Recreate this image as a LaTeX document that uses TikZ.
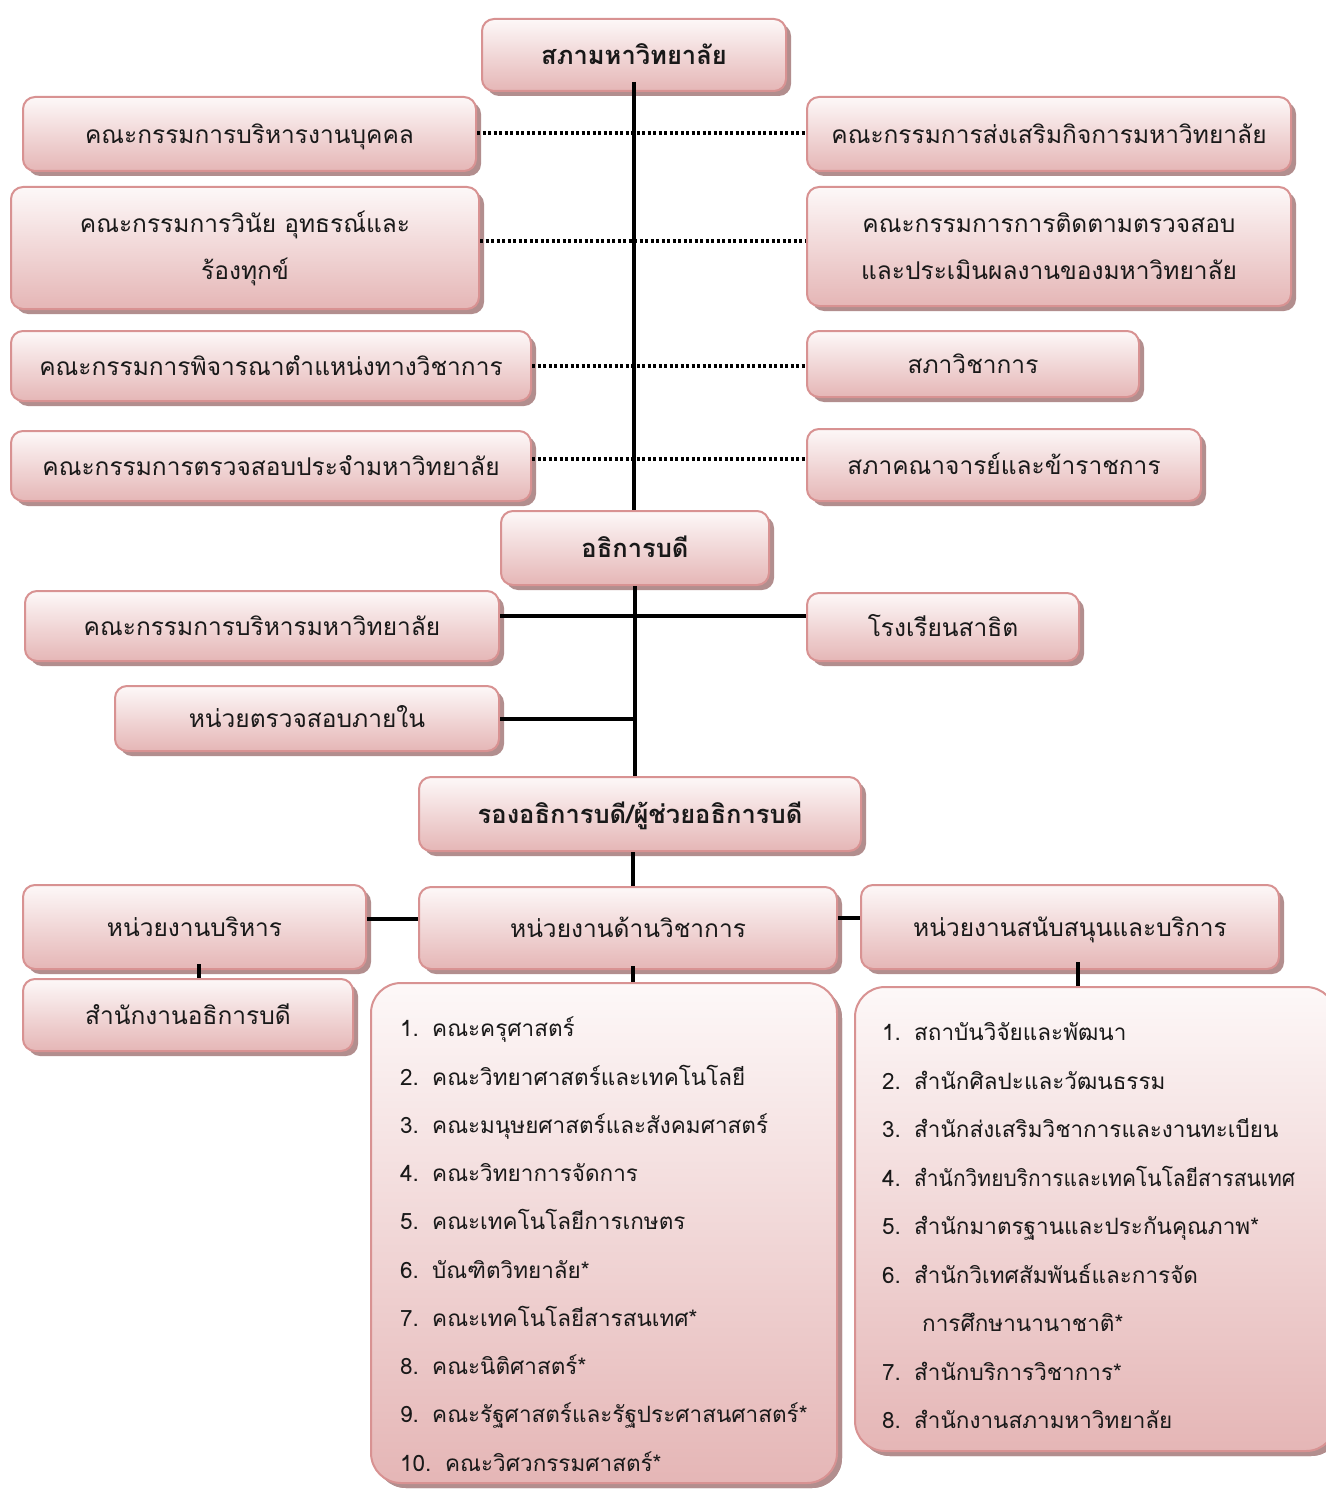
\documentclass[tikz,border=0pt]{standalone}
\usepackage{fontspec}
\setmainfont[Script=Thai]{Loma}
\usetikzlibrary{shadows}
\definecolor{bord}{RGB}{216,146,146}
\definecolor{topc}{RGB}{253,248,248}
\definecolor{botc}{RGB}{229,182,182}
\definecolor{shad}{RGB}{178,142,142}
\definecolor{txt}{RGB}{25,25,25}
\tikzset{
  box/.style={draw=bord, line width=2pt, rounded corners=12pt, top color=topc, bottom color=botc,
    drop shadow={shadow xshift=5pt, shadow yshift=-5pt, fill=shad, opacity=1},
    anchor=north west, inner sep=0pt, align=center, text=txt,
    font=\fontsize{24.5}{47}\selectfont},
  bigbox/.style={box, rounded corners=30pt},
  conn/.style={line width=4pt, black},
  dotconn/.style={line width=3.5pt, black, dash pattern=on 3pt off 2.5pt},
  item/.style={anchor=base west, inner sep=0pt, text=txt, font=\fontsize{22.5}{26}\selectfont},
}
\newcommand\bx[7][]{\node[box,#1, minimum width={#5-#3}, minimum height={#6-#4}] (#2) at (#3,#4) {\strut #7};}
\newcommand\bxx[7][]{\node[box,#1, minimum width={#5-#3}, minimum height={#6-#4}] (#2) at (#3,#4) {#7};}
\newcommand\nm[1]{\makebox[32pt][l]{#1}}
\begin{document}
\begin{tikzpicture}[x=1pt,y=-1pt]
\useasboundingbox[fill=white] (0,0) rectangle (1325,1490);
% boxes
\bx[font=\fontsize{25.5}{47}\selectfont\bfseries]{top}{481}{18}{785}{90}{สภามหาวิทยาลัย}
\bx{c1}{22}{96}{475}{170}{คณะกรรมการบริหารงานบุคคล}
\bx{c2}{806}{96}{1290}{170}{คณะกรรมการส่งเสริมกิจการมหาวิทยาลัย}
\bxx{c3}{10}{186}{478}{308}{คณะกรรมการวินัย อุทธรณ์และ\\ร้องทุกข์}
\bxx{c4}{806}{186}{1290}{305}{คณะกรรมการการติดตามตรวจสอบ\\และประเมินผลงานของมหาวิทยาลัย}
\bx{c5}{10}{330}{530}{400}{คณะกรรมการพิจารณาตำแหน่งทางวิชาการ}
\bx{c6}{806}{330}{1138}{396}{สภาวิชาการ}
\bx{c7}{10}{430}{530}{500}{คณะกรรมการตรวจสอบประจำมหาวิทยาลัย}
\bx{c8}{806}{428}{1200}{500}{สภาคณาจารย์และข้าราชการ}
\bx[font=\fontsize{25.5}{47}\selectfont\bfseries]{rector}{500}{510}{768}{584}{อธิการบดี}
\bx{m1}{24}{590}{498}{660}{คณะกรรมการบริหารมหาวิทยาลัย}
\bx{m2}{806}{592}{1078}{660}{โรงเรียนสาธิต}
\bx{iu}{114}{685}{498}{750}{หน่วยตรวจสอบภายใน}
\bx[font=\fontsize{25.5}{47}\selectfont\bfseries]{vp}{418}{776}{860}{850}{รองอธิการบดี/ผู้ช่วยอธิการบดี}
\bx{adm}{22}{884}{365}{968}{หน่วยงานบริหาร}
\bx{acad}{418}{886}{836}{968}{หน่วยงานด้านวิชาการ}
\bx{sup}{860}{884}{1278}{968}{หน่วยงานสนับสนุนและบริการ}
\bx{office}{22}{978}{352}{1050}{สำนักงานอธิการบดี}
\bxx[bigbox]{alist}{370}{982}{836}{1482}{}
\bxx[bigbox]{slist}{854}{986}{1335}{1450}{}
% academic list
\node[item] (a1) at (400,1036) {\nm{1.}คณะครุศาสตร์};
\node[item] (a2) at (400,1085) {\nm{2.}คณะวิทยาศาสตร์และเทคโนโลยี};
\node[item] (a3) at (400,1133) {\nm{3.}คณะมนุษยศาสตร์และสังคมศาสตร์};
\node[item] (a4) at (400,1181) {\nm{4.}คณะวิทยาการจัดการ};
\node[item] (a5) at (400,1229) {\nm{5.}คณะเทคโนโลยีการเกษตร};
\node[item] (a6) at (400,1278) {\nm{6.}บัณฑิตวิทยาลัย*};
\node[item] (a7) at (400,1326) {\nm{7.}คณะเทคโนโลยีสารสนเทศ*};
\node[item] (a8) at (400,1374) {\nm{8.}คณะนิติศาสตร์*};
\node[item] (a9) at (400,1422) {\nm{9.}คณะรัฐศาสตร์และรัฐประศาสนศาสตร์*};
\node[item] (a10) at (400,1471) {\makebox[45pt][l]{10.}คณะวิศวกรรมศาสตร์*};
% support list
\node[item] (s1) at (882,1040) {\nm{1.}สถาบันวิจัยและพัฒนา};
\node[item] (s2) at (882,1089) {\nm{2.}สำนักศิลปะและวัฒนธรรม};
\node[item] (s3) at (882,1137) {\nm{3.}สำนักส่งเสริมวิชาการและงานทะเบียน};
\node[item] (s4) at (882,1186) {\nm{4.}\scalebox{0.93}[1]{สำนักวิทยบริการและเทคโนโลยีสารสนเทศ}};
\node[item] (s5) at (882,1234) {\nm{5.}สำนักมาตรฐานและประกันคุณภาพ*};
\node[item] (s6) at (882,1283) {\nm{6.}สำนักวิเทศสัมพันธ์และการจัด};
\node[item] (s6b) at (922,1331) {การศึกษานานาชาติ*};
\node[item] (s7) at (882,1380) {\nm{7.}สำนักบริการวิชาการ*};
\node[item] (s8) at (882,1428) {\nm{8.}สำนักงานสภามหาวิทยาลัย};
% connectors
\draw[conn] ([yshift=10pt]top.south) -- (top.south |- rector.north);
\draw[conn] (rector.south) -- (rector.south |- vp.north);
\draw[dotconn] ([yshift=1pt]c1.east) -- ([yshift=1pt]c1.east -| c2.west);
\draw[dotconn] ([yshift=7pt]c3.east) -- ([yshift=7pt]c3.east -| c4.west);
\draw[dotconn] (c5.east) -- (c5.east -| c6.west);
\draw[dotconn] ([yshift=7pt]c7.east) -- ([yshift=7pt]c7.east -| c8.west);
\draw[conn] ([yshift=10pt]m1.east) -- ([yshift=10pt]m1.east -| m2.west);
\draw[conn] (iu.east) -- (iu.east -| rector.south);
\draw[conn] ([xshift=5pt]acad.north) -- ([xshift=5pt]acad.north |- vp.south);
\draw[conn] ([yshift=8pt]adm.east) -- ([yshift=8pt]adm.east -| acad.west);
\draw[conn] ([yshift=10pt]acad.east) -- ([yshift=10pt]acad.east -| sup.west);
\draw[conn] ([yshift=6pt,xshift=4pt]adm.south) -- ([xshift=4pt]adm.south |- office.north);
\draw[conn] ([yshift=4pt,xshift=5pt]acad.south) -- ([xshift=5pt]acad.south |- alist.north);
\draw[conn] ([yshift=8pt,xshift=8pt]sup.south) -- ([xshift=8pt]sup.south |- slist.north);
\end{tikzpicture}
\end{document}
